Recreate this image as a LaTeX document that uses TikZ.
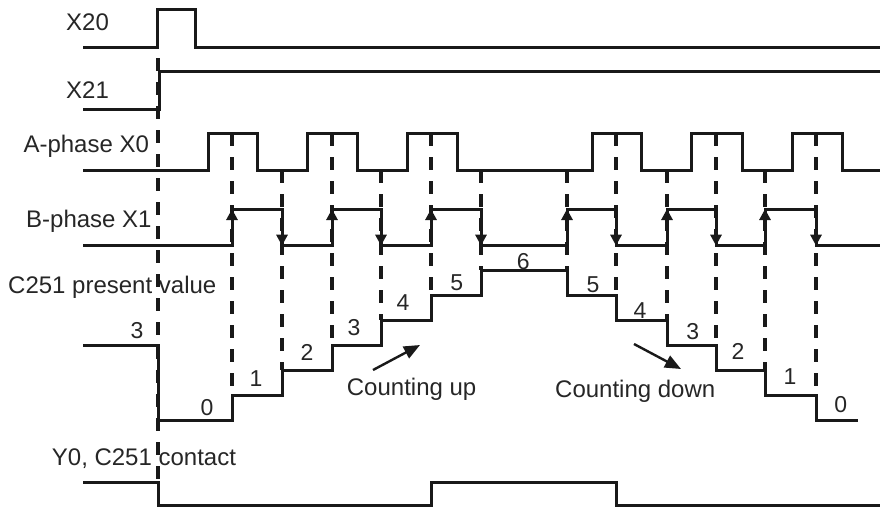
\documentclass[tikz,border=0pt]{standalone}
\usepackage{fontspec}
\setmainfont{Liberation Sans}
\usetikzlibrary{arrows.meta}
\begin{document}
\begin{tikzpicture}[x=1pt,y=-1pt,
  sig/.style={line width=3pt, line join=miter, color=black!90},
  dsh/.style={line width=3.2pt, dash pattern=on 13pt off 11pt, color=black!90},
  edgetip/.style={line width=3pt, color=black!90, -{Triangle[length=11pt,width=11pt]}},
  cnttip/.style={line width=2.4pt, color=black!90, -{Triangle[length=16pt,width=13pt]}},
  lbl/.style={inner sep=0pt, font=\fontsize{24}{28}\selectfont, text=black!85},
  num/.style={inner sep=0pt, font=\fontsize{23}{27}\selectfont, text=black!85, anchor=base}]
\useasboundingbox (0,0) rectangle (880,506);

% labels
\node[lbl, anchor=base west] (lx20) at (66,30.7) {X20};
\node[lbl, anchor=base west] (lx21) at (66,98.3) {X21};
\node[lbl, anchor=base west] (lx0) at (23.3,152.7) {A-phase X0};
\node[lbl, anchor=base west] (lx1) at (26,227.7) {B-phase X1};
\node[lbl, anchor=base west] (lc251) at (8,293) {C251 present value};
\node[lbl, anchor=base west] (ly0) at (51.7,465.7) {Y0, C251 contact};
\node[lbl, anchor=base west] (lup) at (346.7,395) {Counting up};
\node[lbl, anchor=base west] (ldown) at (555,397.3) {Counting down};

% dashed guides
\draw[dsh] (158,58) -- (158,482);
\foreach \x/\ya/\yb in {232/133/395, 282/170/370, 332/133/345, 381/170/320,
  431/133/295, 481/170/270, 567/170/270, 616/133/295, 667/170/320,
  716/133/345, 765/170/370, 816/133/395}
  \draw[dsh] (\x,\ya) -- (\x,\yb);

% X20
\draw[sig] (83,47) -- (157.7,47) -- (157.7,9.5) -- (195,9.5) -- (195,47) -- (880,47);
% X21
\draw[sig] (83,109) -- (159,109) -- (159,71.7) -- (880,71.7);
% A-phase
\draw[sig] (83,170) -| (208,133) -| (257,170) -| (307,133) -| (357,170)
  -| (407,133) -| (457,170) -| (592,133) -| (641,170) -| (691,133)
  -| (742,170) -| (792,133) -| (842,170) -- (880,170);
% B-phase
\draw[sig] (83,245.7) -| (232,209) -| (282,245.7) -| (332,209) -| (381,245.7)
  -| (431,209) -| (481,245.7) -| (567,209) -| (616,245.7) -| (667,209)
  -| (716,245.7) -| (765,209) -| (816,245.7) -- (880,245.7);
\foreach \x in {232,332,431,567,667,765}
  \draw[edgetip] (\x,235) -- (\x,209);
\foreach \x in {282,381,481,616,716,816}
  \draw[edgetip] (\x,220) -- (\x,245.7);

% C251 present value
\draw[sig] (83,345) -- (158,345) -- (158,420) -- (232,420) -- (232,395)
  -- (282,395) -- (282,370) -- (332,370) -- (332,345) -- (381,345)
  -- (381,320) -- (431,320) -- (431,295) -- (481,295) -- (481,270)
  -- (567,270) -- (567,295) -- (616,295) -- (616,320) -- (667,320)
  -- (667,345) -- (716,345) -- (716,370) -- (765,370) -- (765,395)
  -- (816,395) -- (816,420) -- (858,420);

\node[num] (n3a) at (137,338) {3};
\node[num] (n0a) at (207,415) {0};
\node[num] (n1a) at (256,386) {1};
\node[num] (n2a) at (307,360.5) {2};
\node[num] (n3b) at (354,335) {3};
\node[num] (n4a) at (403,310) {4};
\node[num] (n5a) at (456.7,290) {5};
\node[num] (n6) at (523.3,269) {6};
\node[num] (n5b) at (593,292.7) {5};
\node[num] (n4b) at (640,318.3) {4};
\node[num] (n3c) at (692.7,339) {3};
\node[num] (n2b) at (738,359) {2};
\node[num] (n1b) at (790,384.3) {1};
\node[num] (n0b) at (840.7,412.7) {0};

% counting arrows
\coordinate (upa) at (373,370);
\coordinate (upb) at (420,345);
\draw[cnttip] (upa) -- (upb);
\coordinate (dna) at (634,344);
\coordinate (dnb) at (681,369);
\draw[cnttip] (dna) -- (dnb);

% Y0, C251 contact
\draw[sig] (83,482.3) -- (158,482.3) -- (158,505) -- (431,505) -- (431,482.3)
  -- (616,482.3) -- (616,505) -- (880,505);
\end{tikzpicture}
\end{document}
